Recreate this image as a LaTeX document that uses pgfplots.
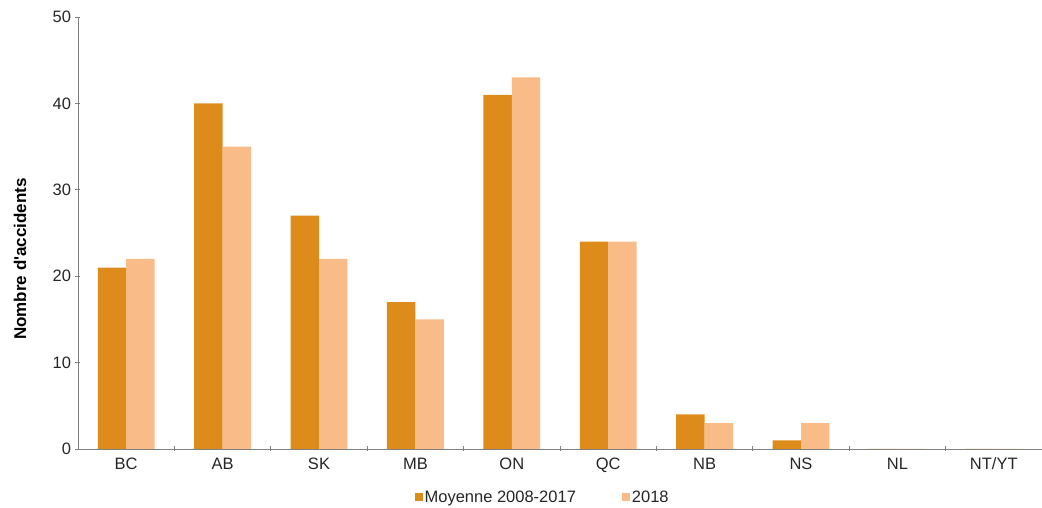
\documentclass[border=0pt]{standalone}
\usepackage{pgfplots}
\pgfplotsset{compat=1.18}
\usepackage{fontspec}
\setmainfont{Liberation Sans}

\definecolor{darkor}{HTML}{DD8C1B}
\definecolor{lightor}{HTML}{F9BC88}
\definecolor{axgray}{HTML}{808080}

\begin{document}
\begin{tikzpicture}
\path[use as bounding box] (-78pt,-59pt) rectangle (964pt,449pt);
\begin{axis}[
    at={(0pt,0pt)}, anchor=south west,
    scale only axis,
    width=964pt, height=432pt,
    ybar=0pt,
    bar width=0.295,
    xmin=-0.5, xmax=9.5,
    ymin=0, ymax=50,
    ytick={0,10,...,50},
    xtick={0,...,9},
    xticklabels={BC,AB,SK,MB,ON,QC,NB,NS,NL,NT/YT},
    minor xtick={0.5,1.5,...,8.5},
    every major x tick/.append style={draw=none},
    major tick length=5pt, minor tick length=5pt,
    tick align=outside,
    axis x line=bottom, axis y line=left,
    axis line style={-, axgray, line width=0.8pt},
    tick style={axgray, line width=0.8pt},
    /pgf/number format/assume math mode=true,
    ticklabel style={font=\fontsize{16.5}{18}\selectfont, text=black!85},
    yticklabel style={xshift=-1pt},
    xticklabel style={yshift=-3pt},
    ylabel={Nombre d\textquotesingle accidents},
    every axis y label/.style={at={(axis description cs:0,0.5)}, anchor=center, rotate=90,
        yshift=58pt, xshift=-26pt,
        font=\fontsize{17}{19}\selectfont\bfseries},
    legend columns=2,
    legend style={at={(axis description cs:0.482,0)}, anchor=center, yshift=-48pt, draw=none,
        font=\fontsize{16.5}{18}\selectfont, text=black!85,
        /tikz/every even column/.append style={column sep=44pt}},
    legend image code/.code={\fill[#1] (0pt,-4pt) rectangle (8pt,4pt);},
]
\addplot[fill=darkor, draw=none] coordinates {
    (0,21) (1,40) (2,27) (3,17) (4,41) (5,24) (6,4) (7,1) (8,0) (9,0)
};
\addplot[fill=lightor, draw=none] coordinates {
    (0,22) (1,35) (2,22) (3,15) (4,43) (5,24) (6,3) (7,3) (8,0) (9,0)
};
\legend{Moyenne 2008-2017, 2018}
\end{axis}
\end{tikzpicture}
\end{document}
